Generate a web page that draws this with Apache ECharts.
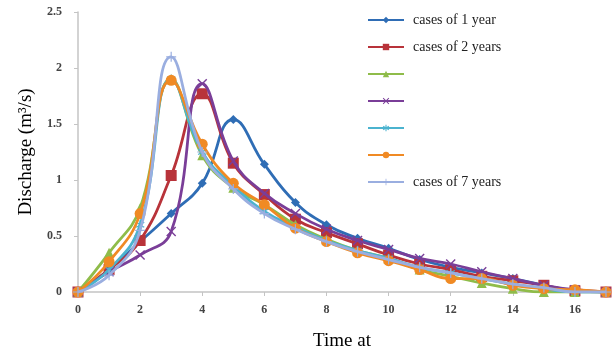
<!DOCTYPE html>
<html>
<head>
<meta charset="utf-8">
<title>discharge</title>
<script src="https://cdn.jsdelivr.net/npm/echarts@6/dist/echarts.min.js"></script>
<style>
  html, body { margin: 0; padding: 0; background: #fff; }
  #main { width: 613px; height: 358px; }
</style>
</head>
<body>
<div id="main"></div>
<script type="text/javascript">
// time steps (0..17)
var times = ['0','1','2','3','4','5','6','7','8','9','10','11','12','13','14','15','16','17'];

var names = ['cases of 1 year', 'cases of 2 years', 'cases of 3 years', 'cases of 4 years',
             'cases of 5 years', 'cases of 6 years', 'cases of 7 years'];
// only these names are printed in the legend
var shownNames = ['cases of 1 year', 'cases of 2 years', 'cases of 7 years'];

var year1 = [0, 0.2, 0.45, 0.7, 0.97, 1.54, 1.14, 0.8, 0.6, 0.48, 0.39, 0.29, 0.22, 0.17, 0.12, 0.06, 0.01, 0];
var year2 = [0, 0.2, 0.46, 1.04, 1.77, 1.15, 0.87, 0.65, 0.53, 0.43, 0.33, 0.25, 0.2, 0.14, 0.1, 0.06, 0.01, 0];
var year3 = [0, 0.35, 0.75, 1.9, 1.22, 0.93, 0.78, 0.6, 0.47, 0.37, 0.3, 0.2, 0.14, 0.08, 0.03, 0, 0, 0];
var year4 = [0, 0.18, 0.33, 0.54, 1.86, 1.17, 0.88, 0.7, 0.56, 0.46, 0.38, 0.3, 0.25, 0.18, 0.12, 0.06, 0.02, 0];
var year5 = [0, 0.2, 0.6, 1.9, 1.25, 0.95, 0.72, 0.58, 0.46, 0.37, 0.3, 0.22, 0.17, 0.12, 0.07, 0.03, 0, 0];
var year6 = [0, 0.27, 0.7, 1.89, 1.32, 0.97, 0.78, 0.57, 0.45, 0.35, 0.28, 0.2, 0.12, 0.12, 0.06, 0.03, 0.02, 0];
var year7 = [0, 0.15, 0.55, 2.1, 1.25, 0.92, 0.7, 0.56, 0.45, 0.36, 0.29, 0.22, 0.17, 0.12, 0.07, 0.04, 0, 0];

var allData = [year1, year2, year3, year4, year5, year6, year7];
var colors = ['#2f6db5', '#b8333a', '#8fbc4a', '#7a3e98', '#4bb3cf', '#f08a24', '#9aaee0'];
var symbols = [
  'diamond',
  'rect',
  'triangle',
  'path://M1,0 L5,4 L9,0 L10,1 L6,5 L10,9 L9,10 L5,6 L1,10 L0,9 L4,5 L0,1 Z',
  'path://M4.3,0 H5.7 V3.3 L8.6,1.6 L9.3,2.8 L6.4,4.5 V5.5 L9.3,7.2 L8.6,8.4 L5.7,6.7 V10 H4.3 V6.7 L1.4,8.4 L0.7,7.2 L3.6,5.5 V4.5 L0.7,2.8 L1.4,1.6 L4.3,3.3 Z',
  'circle',
  'path://M4.4,0 H5.6 V4.4 H10 V5.6 H5.6 V10 H4.4 V5.6 H0 V4.4 H4.4 Z'
];
var sizes = [9, 11, 10, 10, 9, 11, 10];

var myChart = echarts.init(document.getElementById('main'));

var series = [];
for (var i = 0; i < allData.length; i++) {
  series.push({
    name: names[i],
    type: 'line',
    smooth: 0.45,
    data: allData[i],
    symbol: symbols[i],
    symbolSize: sizes[i],
    showAllSymbol: true,
    lineStyle: { width: 2.8, color: colors[i] },
    itemStyle: { color: colors[i] },
    z: 2 + i
  });
}

myChart.setOption({
  animation: false,
  grid: { left: 78, right: 7, top: 12, bottom: 66 },
  legend: {
    orient: 'vertical',
    left: 362,
    top: 8,
    itemWidth: 36,
    itemHeight: 8,
    itemGap: 13,
    data: names,
    formatter: function (name) {
      // unlabeled entries keep the same row height
      return shownNames.indexOf(name) >= 0 ? name : '\u00a0';
    },
    textStyle: { fontFamily: 'Liberation Serif', fontSize: 14, color: '#222', padding: [0, 0, 0, 4] }
  },
  xAxis: {
    type: 'category',
    data: times,
    boundaryGap: false,
    name: 'Time at',
    nameLocation: 'middle',
    nameGap: 40,
    nameTextStyle: { fontFamily: 'Liberation Serif', fontSize: 19, color: '#000' },
    axisLine: { lineStyle: { color: '#c4c4c4', width: 1.5 } },
    axisTick: { interval: 1, length: 4, lineStyle: { color: '#c4c4c4' } },
    axisLabel: { interval: 1, margin: 12, fontFamily: 'Liberation Serif', fontSize: 12, fontWeight: 'bold', color: '#444' },
    splitLine: { show: false }
  },
  yAxis: {
    type: 'value',
    min: 0,
    max: 2.5,
    interval: 0.5,
    name: 'Discharge (m³/s)',
    nameLocation: 'middle',
    nameGap: 42,
    nameTextStyle: { fontFamily: 'Liberation Serif', fontSize: 19, color: '#000' },
    axisLine: { show: true, lineStyle: { color: '#c4c4c4', width: 1.5 } },
    axisTick: { show: true, length: 4, lineStyle: { color: '#c4c4c4' } },
    axisLabel: { margin: 16, fontFamily: 'Liberation Serif', fontSize: 12, fontWeight: 'bold', color: '#444' },
    splitLine: { show: false }
  },
  series: series
});
</script>
</body>
</html>
